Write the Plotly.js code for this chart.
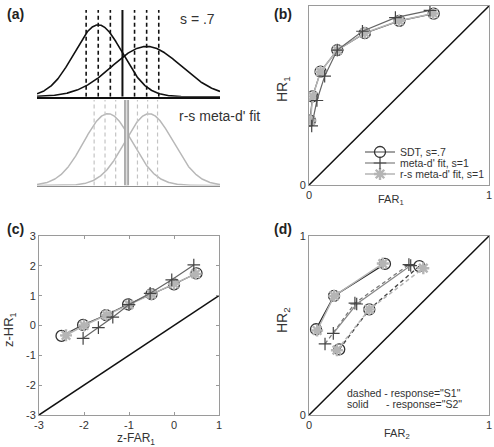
<!DOCTYPE html>
<html>
<head>
<meta charset="utf-8">
<script src="https://cdn.plot.ly/plotly-3.0.1.min.js"></script>
<style>html,body{margin:0;padding:0;background:#fff}</style>
</head>
<body>
<div id="chart" style="width:494px;height:447px"></div>
<script>
// ---- (a) generative SDT model (s = .7) and the r-s meta-d' fit (s = 1) ----
const sdtMeans = [0, 2];
const sdtSds = [1, 1 / 0.7];
const sdtConfCriteria = [-0.5, 0, 0.5, 1.5, 2, 2.5];
const sdtTypeOneCriterion = 1.0;

const rsMeans = [0.4, 2.1];
const rsSds = [1, 1];
const rsConfCriteria = [-0.17, 0.28, 0.72, 1.62, 2.04, 2.45];
const rsTypeOneCriterion = 1.17;

const decisionAxisRange = [-2.53, 5.03];

// ---- (b) type 1 ROC ----
const far1Sdt  = [0.005, 0.02, 0.064, 0.157, 0.31, 0.502, 0.693];
const hr1Sdt   = [0.36, 0.495, 0.633, 0.754, 0.848, 0.917, 0.957];
const far1Meta = [0.015, 0.044, 0.087, 0.157, 0.297, 0.48, 0.672];
const hr1Meta  = [0.33, 0.472, 0.608, 0.754, 0.859, 0.935, 0.976];
const far1Rs   = [0.008, 0.021, 0.064, 0.157, 0.31, 0.5, 0.69];
const hr1Rs    = [0.36, 0.495, 0.633, 0.754, 0.85, 0.918, 0.958];

// ---- (c) type 1 ROC in z-space ----
const zFarSdt  = [-2.5, -2.02, -1.51, -1.02, -0.5, 0.0, 0.5];
const zHrSdt   = [-0.35, 0.02, 0.35, 0.71, 1.05, 1.38, 1.75];
const zFarMeta = [-2.02, -1.68, -1.36, -1.0, -0.53, -0.05, 0.44];
const zHrMeta  = [-0.43, -0.07, 0.28, 0.7, 1.08, 1.53, 2.03];
const zFarRs   = [-2.4, -2.0, -1.5, -1.0, -0.5, 0.0, 0.48];
const zHrRs    = [-0.33, 0.0, 0.35, 0.7, 1.05, 1.4, 1.73];
const zTickX = [-3, -2, -1, 0, 1];
const zTickY = [-3, -2, -1, 0, 1, 2, 3];

// ---- (d) type 2 ROC, split by response ----
const far2SdtS2  = [0.039, 0.139, 0.422];
const hr2SdtS2   = [0.479, 0.665, 0.844];
const far2SdtS1  = [0.168, 0.335, 0.613];
const hr2SdtS1   = [0.367, 0.59, 0.832];
const far2MetaS2 = [0.135, 0.265, 0.565];
const hr2MetaS2  = [0.456, 0.62, 0.835];
const far2MetaS1 = [0.089, 0.255, 0.555];
const hr2MetaS1  = [0.397, 0.625, 0.84];
const far2RsS2   = [0.045, 0.14, 0.41];
const hr2RsS2    = [0.472, 0.665, 0.846];
const far2RsS1   = [0.155, 0.335, 0.635];
const hr2RsS1    = [0.362, 0.59, 0.82];

const unitRange = [0, 1];
const legendNames = ["SDT, s=.7", "meta-d' fit, s=1", "r-s meta-d' fit, s=1"];

// ---- helpers ----
const W = 494, H = 447;
const fx = p => p / W;
const fy = p => 1 - p / H;
const FONT = 'Liberation Sans, Arial, Helvetica, sans-serif';

function normalPdf(x, m, s) {
  const z = (x - m) / s;
  return Math.exp(-0.5 * z * z) / (s * Math.sqrt(2 * Math.PI));
}
const grid = [];
for (let i = 0; i <= 400; i++) {
  grid.push(decisionAxisRange[0] + (decisionAxisRange[1] - decisionAxisRange[0]) * i / 400);
}

const C_SDT = '#333333', C_RS = '#b5b5b5';
const sdtMarker  = {symbol: 'circle-open', size: 11, color: C_SDT, line: {width: 1.3}};
const metaMarker = {symbol: 'cross-thin-open', size: 9, color: '#444', line: {width: 1.2}};
const rsMarker   = {symbol: 'asterisk-open', size: 10, color: C_RS, line: {width: 2.4}};

const traces = [];

// (a) density curves
for (let k = 0; k < 2; k++) {
  traces.push({x: grid, y: grid.map(v => normalPdf(v, sdtMeans[k], sdtSds[k])),
    xaxis: 'x', yaxis: 'y', mode: 'lines', line: {color: '#111', width: 1.6},
    showlegend: false, hoverinfo: 'skip'});
  traces.push({x: grid, y: grid.map(v => normalPdf(v, rsMeans[k], rsSds[k])),
    xaxis: 'x2', yaxis: 'y2', mode: 'lines', line: {color: '#b8b8b8', width: 1.5},
    showlegend: false, hoverinfo: 'skip'});
}

// (b), (c): SDT, r-s fit, meta-d' fit
function rocSet(ax, ay, fs, hs, fm, hm, fr, hr, legend) {
  traces.push({x: fs, y: hs, xaxis: ax, yaxis: ay, mode: 'lines+markers', name: legendNames[0],
    line: {color: '#444', width: 1.2}, marker: sdtMarker, showlegend: legend, legend: 'legend'});
  traces.push({x: fr, y: hr, xaxis: ax, yaxis: ay, mode: 'lines+markers', name: legendNames[2],
    line: {color: C_RS, width: 1.5}, marker: rsMarker, showlegend: legend, legend: 'legend3'});
  traces.push({x: fm, y: hm, xaxis: ax, yaxis: ay, mode: 'lines+markers', name: legendNames[1],
    line: {color: '#666', width: 1.2}, marker: metaMarker, showlegend: legend, legend: 'legend2'});
}
// chance diagonals
traces.push({x: unitRange, y: unitRange, xaxis: 'x3', yaxis: 'y3', mode: 'lines',
  line: {color: '#111', width: 1.5}, showlegend: false, hoverinfo: 'skip'});
traces.push({x: [zTickX[0], zTickX[zTickX.length - 1]], y: [zTickX[0], zTickX[zTickX.length - 1]],
  xaxis: 'x4', yaxis: 'y4', mode: 'lines', line: {color: '#111', width: 1.5}, showlegend: false, hoverinfo: 'skip'});
traces.push({x: unitRange, y: unitRange, xaxis: 'x5', yaxis: 'y5', mode: 'lines',
  line: {color: '#111', width: 1.5}, showlegend: false, hoverinfo: 'skip'});

rocSet('x3', 'y3', far1Sdt, hr1Sdt, far1Meta, hr1Meta, far1Rs, hr1Rs, true);
rocSet('x4', 'y4', zFarSdt, zHrSdt, zFarMeta, zHrMeta, zFarRs, zHrRs, false);

// (d) type 2 ROCs: dashed = response "S1", solid = response "S2"
function t2(xs, ys, color, width, dash, marker) {
  traces.push({x: xs, y: ys, xaxis: 'x5', yaxis: 'y5', mode: 'lines+markers',
    line: {color: color, width: width, dash: dash}, marker: marker, showlegend: false});
}
t2(far2SdtS1, hr2SdtS1, '#444', 1.4, '4px,3px', sdtMarker);
t2(far2SdtS2, hr2SdtS2, '#222', 1.4, 'solid', sdtMarker);
t2(far2MetaS1, hr2MetaS1, '#777', 1.2, '4px,3px', metaMarker);
t2(far2MetaS2, hr2MetaS2, '#888', 1.2, 'solid', metaMarker);
t2(far2RsS1, hr2RsS1, C_RS, 1.5, '4px,3px', rsMarker);
t2(far2RsS2, hr2RsS2, C_RS, 1.5, 'solid', rsMarker);

// criterion lines in (a)
const shapes = [];
const topDash = 0.482, botDash = 0.475;
sdtConfCriteria.forEach(c => shapes.push({type: 'line', xref: 'x', yref: 'y', x0: c, x1: c, y0: 0, y1: topDash,
  line: {color: '#111', width: 1.6, dash: '4px,3px'}}));
shapes.push({type: 'line', xref: 'x', yref: 'y', x0: sdtTypeOneCriterion, x1: sdtTypeOneCriterion,
  y0: 0, y1: topDash, line: {color: '#111', width: 2}});
rsConfCriteria.forEach(c => shapes.push({type: 'line', xref: 'x2', yref: 'y2', x0: c, x1: c, y0: 0, y1: botDash,
  line: {color: '#c4c4c4', width: 1.2, dash: '4px,3px'}}));
shapes.push({type: 'line', xref: 'x2', yref: 'y2', x0: rsTypeOneCriterion, x1: rsTypeOneCriterion,
  y0: 0, y1: botDash, line: {color: '#a8a8a8', width: 5}});
shapes.push({type: 'line', xref: 'x2', yref: 'y2', x0: rsTypeOneCriterion, x1: rsTypeOneCriterion,
  y0: 0, y1: botDash, line: {color: '#dedede', width: 1.4}});

// axes
const hidden = {visible: false, fixedrange: true};
const boxAxis = {showline: true, linecolor: '#9a9a9a', linewidth: 1, mirror: 'ticks', ticks: 'inside',
  ticklen: 3, tickcolor: '#9a9a9a', showgrid: false, zeroline: false, fixedrange: true,
  tickfont: {family: FONT, size: 11, color: '#333'}};
const unitAxis = Object.assign({}, boxAxis, {range: unitRange, tickvals: unitRange, ticktext: ['0', '1'], ticks: ''});

const layout = {
  width: W, height: H, margin: {l: 0, r: 0, t: 0, b: 0},
  paper_bgcolor: '#fff', plot_bgcolor: 'rgba(0,0,0,0)',
  font: {family: FONT, color: '#333'},
  xaxis: {domain: [fx(37), fx(220)], range: decisionAxisRange, showline: true, linecolor: '#111', linewidth: 2,
    showticklabels: false, ticks: '', showgrid: false, zeroline: false, anchor: 'y', fixedrange: true},
  yaxis: Object.assign({domain: [fy(96.7), fy(8)], range: [0, 0.4926], anchor: 'x'}, hidden),
  xaxis2: {domain: [fx(37), fx(220)], range: decisionAxisRange, showline: true, linecolor: '#8c8c8c', linewidth: 1.5,
    showticklabels: false, ticks: '', showgrid: false, zeroline: false, anchor: 'y2', fixedrange: true},
  yaxis2: Object.assign({domain: [fy(185.5), fy(97)], range: [0, 0.4917], anchor: 'x2'}, hidden),
  xaxis3: Object.assign({}, unitAxis, {domain: [fx(309), fx(489)], anchor: 'y3'}),
  yaxis3: Object.assign({}, unitAxis, {domain: [fy(185), fy(6)], anchor: 'x3'}),
  xaxis4: Object.assign({}, boxAxis, {domain: [fx(39), fx(219)], range: [-3, 1], tickvals: zTickX,
    ticktext: zTickX.map(String), anchor: 'y4'}),
  yaxis4: Object.assign({}, boxAxis, {domain: [fy(415), fy(236)], range: [-3, 3], tickvals: zTickY,
    ticktext: zTickY.map(String), anchor: 'x4'}),
  xaxis5: Object.assign({}, unitAxis, {domain: [fx(309), fx(489)], anchor: 'y5'}),
  yaxis5: Object.assign({}, unitAxis, {domain: [fy(415), fy(236)], anchor: 'x5'}),
  shapes: shapes,
  showlegend: true,
  legend:  {x: fx(360), y: fy(152), xanchor: 'left', yanchor: 'middle', bgcolor: 'rgba(0,0,0,0)',
    font: {family: FONT, size: 10.5, color: '#333'}},
  legend2: {x: fx(360), y: fy(163), xanchor: 'left', yanchor: 'middle', bgcolor: 'rgba(0,0,0,0)',
    font: {family: FONT, size: 10.5, color: '#333'}},
  legend3: {x: fx(360), y: fy(174), xanchor: 'left', yanchor: 'middle', bgcolor: 'rgba(0,0,0,0)',
    font: {family: FONT, size: 10.5, color: '#333'}},
  annotations: []
};

function note(text, x, y, opts) {
  layout.annotations.push(Object.assign({text: text, xref: 'paper', yref: 'paper', x: fx(x), y: fy(y),
    showarrow: false, xanchor: 'center', yanchor: 'middle',
    font: {family: FONT, size: 12, color: '#333'}}, opts || {}));
}
const bold = {family: FONT, size: 14, color: '#222', weight: 'bold'};
note('<b>(a)</b>', 15, 14, {font: bold});
note('<b>(b)</b>', 283, 14, {font: bold});
note('<b>(c)</b>', 15, 229, {font: bold});
note('<b>(d)</b>', 283, 229, {font: bold});

note('s = .7', 178, 19, {xanchor: 'left', font: {family: FONT, size: 14, color: '#333'}});
note("r-s meta-d' fit", 177, 116, {xanchor: 'left', font: {family: FONT, size: 14, color: '#333'}});

note('HR<sub>1</sub>', 283, 89, {textangle: -90, font: {family: FONT, size: 14, color: '#333'}});
note('FAR<sub>1</sub>', 391, 200, {font: {family: FONT, size: 11, color: '#333'}});
note('z-HR<sub>1</sub>', 9, 330, {textangle: -90, font: {family: FONT, size: 13, color: '#333'}});
note('z-FAR<sub>1</sub>', 136, 439, {font: {family: FONT, size: 12, color: '#333'}});
note('HR<sub>2</sub>', 283, 320, {textangle: -90, font: {family: FONT, size: 14, color: '#333'}});
note('FAR<sub>2</sub>', 397, 434, {font: {family: FONT, size: 11, color: '#333'}});

note('dashed - response="S1"', 345, 393, {xanchor: 'left', font: {family: FONT, size: 10.5, color: '#333'}});
note('solid', 345, 404, {xanchor: 'left', font: {family: FONT, size: 10.5, color: '#333'}});
note('- response="S2"', 384, 404, {xanchor: 'left', font: {family: FONT, size: 10.5, color: '#333'}});

Plotly.newPlot('chart', traces, layout, {staticPlot: true, displayModeBar: false});
</script>
</body>
</html>
